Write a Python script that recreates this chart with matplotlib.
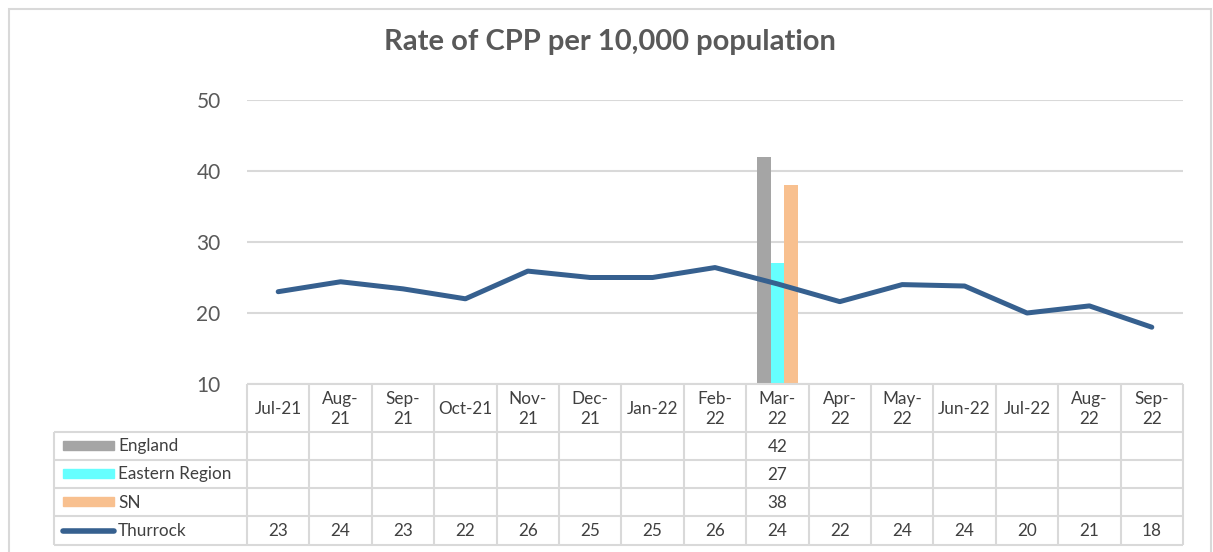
import matplotlib
matplotlib.use("Agg")
import matplotlib.pyplot as plt
from matplotlib.patches import Rectangle
from matplotlib.lines import Line2D

# data
months = ["Jul-21", "Aug-\n21", "Sep-\n21", "Oct-21", "Nov-\n21", "Dec-\n21", "Jan-22",
          "Feb-\n22", "Mar-\n22", "Apr-\n22", "May-\n22", "Jun-22", "Jul-22", "Aug-\n22", "Sep-\n22"]
thurrock = [23.0, 24.4, 23.4, 22.0, 25.9, 25.0, 25.0, 26.4, 24.1, 21.6, 24.0, 23.8, 20.0, 21.0, 18.0]
england = [None] * 8 + [42] + [None] * 6
eastern = [None] * 8 + [27] + [None] * 6
sn = [None] * 8 + [38] + [None] * 6

bar_series = [("England", england, "#a5a5a5"),
              ("Eastern Region", eastern, "#66ffff"),
              ("SN", sn, "#f8c08f")]
line_color = "#36608f"
grid_col = "#d9d9d9"
txt_col = "#404040"

plt.rcParams['font.family'] = ['Lato', 'DejaVu Sans']

W, H = 1213, 552
fig = plt.figure(figsize=(W / 100, H / 100), dpi=100)

def fx(px):
    return px / W

def fy(py):
    return 1 - py / H

# outer chart border
fig.patches.append(Rectangle((fx(8.5), fy(600)), fx(1211 - 8.5), fy(8.5) - fy(600),
                             transform=fig.transFigure, fill=False, ec="#d9d9d9", lw=1.5))

fig.text(fx(610), fy(50), "Rate of CPP per 10,000 population", ha="center", va="baseline",
         fontsize=21, fontweight="bold", color="#595959")

left, right, top, bottom = 247, 1183, 100, 384
ax = fig.add_axes([fx(left), fy(bottom), fx(right - left), fy(top) - fy(bottom)])
x = list(range(len(months)))
ax.set_xlim(-0.5, len(months) - 0.5)
ax.set_ylim(10, 50)
ax.set_yticks([10, 20, 30, 40, 50])
ax.yaxis.grid(True, color=grid_col, lw=1.5)
ax.set_axisbelow(True)
for s in ax.spines.values():
    s.set_visible(False)
ax.tick_params(axis="y", length=0, labelsize=15, labelcolor="#595959", pad=19)
ax.set_xticks([])

bw = 0.22
for k, (name, vals, col) in enumerate(bar_series):
    for i, v in enumerate(vals):
        if v is not None:
            ax.bar(i + (k - 1) * bw, v - 10, bottom=10, width=bw, color=col, zorder=2)

ax.plot(x, thurrock, color=line_color, lw=3.6, solid_capstyle="round",
        solid_joinstyle="round", zorder=3)

# data table
tb_bottom = 545
tab = fig.add_axes([fx(left), fy(tb_bottom), fx(right - left), fy(bottom) - fy(tb_bottom)])
tab.set_xlim(-0.5, len(months) - 0.5)
tab.set_ylim(tb_bottom - bottom, 0)
tab.axis("off")
col_w = (right - left) / len(months)
label_left = -0.5 - (left - 54) / col_w
row_edges = [0, 48, 76, 104, 132, tb_bottom - bottom]
lkw = dict(color=grid_col, lw=1.5, clip_on=False, solid_capstyle="butt")

for yy in row_edges:
    x0 = -0.5 if yy == 0 else label_left
    tab.plot([x0, len(months) - 0.5], [yy, yy], **lkw)
for i in range(len(months) + 1):
    tab.plot([i - 0.5, i - 0.5], [0, row_edges[-1]], **lkw)
tab.plot([label_left, label_left], [row_edges[1], row_edges[-1]], **lkw)

fs = 12.3
for i, m in enumerate(months):
    tab.text(i, row_edges[1] / 2 + 1, m, ha="center", va="center", fontsize=fs,
             color=txt_col, linespacing=1.35)

rows = [(name, vals, col, "bar") for name, vals, col in bar_series]
rows.append(("Thurrock", thurrock, line_color, "line"))
key_x0 = label_left + 9 / col_w
key_x1 = label_left + 60 / col_w
for r, (name, vals, col, kind) in enumerate(rows):
    yc = (row_edges[r + 1] + row_edges[r + 2]) / 2
    if kind == "bar":
        tab.add_patch(Rectangle((key_x0, yc - 5), key_x1 - key_x0, 9, color=col,
                                clip_on=False))
    else:
        tab.add_line(Line2D([key_x0, key_x1], [yc + 0.5, yc + 0.5], color=col, lw=4,
                            solid_capstyle="round", clip_on=False))
    tab.text(key_x1 + 4 / col_w, yc + 0.5, name, ha="left", va="center", fontsize=fs,
             color=txt_col, clip_on=False)
    for i, v in enumerate(vals):
        if v is not None:
            tab.text(i, yc + 0.5, "%d" % round(v), ha="center", va="center",
                     fontsize=fs, color=txt_col)

fig.savefig("out.png", dpi=100)
